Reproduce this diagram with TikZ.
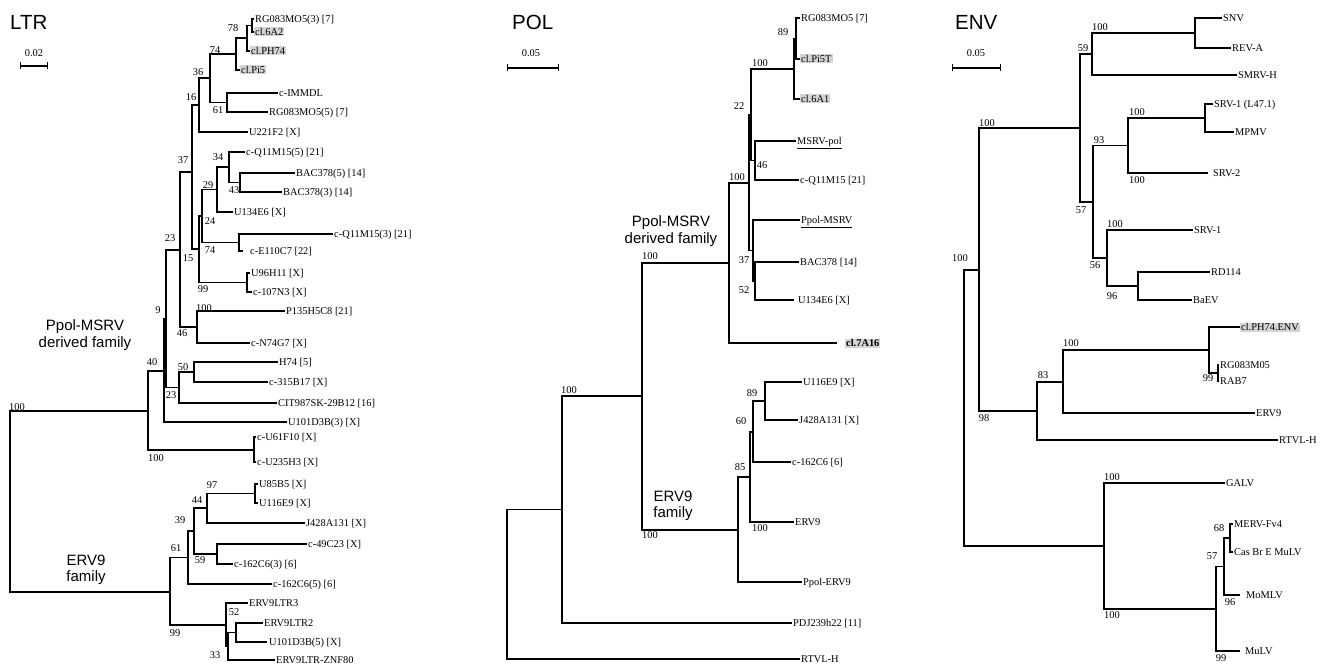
\documentclass[tikz,border=0pt]{standalone}
\usepackage{fontspec}
\setmainfont{Liberation Serif}
\newfontfamily\hvfont{Liberation Sans}
\usetikzlibrary{arrows.meta}
\tikzset{
  tree/.style={line width=1.25pt, line join=miter},
  lab/.style={anchor=west, inner sep=1pt, font=\fontsize{10.4}{12}\selectfont, text height=7pt, text depth=0pt},
  shd/.style={fill=black!17},
  bs/.style={inner sep=0pt, font=\fontsize{10.4}{12}\selectfont},
  ttl/.style={anchor=west, inner sep=0pt, font=\hvfont\fontsize{20.5}{22}\selectfont},
  fam/.style={inner sep=0pt, align=center, font=\hvfont\fontsize{15}{16.5}\selectfont},
  sbar/.style={line width=1.2pt, {Bar[width=7pt]}-{Bar[width=7pt]}},
}
\newcommand{\TLeaf}[4]{\coordinate (#1) at (#2,#3); \node[lab] (#1t) at (#1) {#4};}
\newcommand{\TLeafS}[4]{\coordinate (#1) at (#2,#3); \node[lab,shd] (#1t) at (#1) {#4};}
\newcommand{\TLeafG}[5]{\coordinate (#1) at (#2,#3); \node[lab,xshift=#4] (#1t) at (#1) {#5};}
\newcommand{\TNode}[3]{\coordinate (#1) at (#2,#3);}
\newcommand{\TJoin}[3]{\draw[tree] (#1) |- (#2); \draw[tree] (#1) |- (#3);}
\newcommand{\TBoot}[4]{\node[bs] (#1) at (#2,#3) {#4};}
\begin{document}
\begin{tikzpicture}[x=1pt,y=-1pt]
\useasboundingbox (0,0) rectangle (1320,666);

% ================= LTR =================
\node[ttl] (tLTR) at (10,22) {LTR};
\node[bs] (sLTR) at (34,53) {0.02};
\coordinate (sLa) at (20,66); \coordinate (sLb) at (48,66);
\draw[sbar] (sLa) -- (sLb);

\TLeaf{L1}{254}{19}{RG083MO5(3) [7]}
\TLeafS{L2}{254}{32}{cl.6A2}
\TLeafS{L3}{250}{51}{cl.PH74}
\TLeafS{L4}{240}{70}{cl.Pi5}
\TLeaf{L5}{278}{93}{c-IMMDL}
\TLeaf{L6}{268}{112}{RG083MO5(5) [7]}
\TLeaf{L7}{248}{132}{U221F2 [X]}
\TLeaf{L8}{245}{152}{c-Q11M15(5) [21]}
\TLeaf{L9}{295}{173}{BAC378(5) [14]}
\TLeaf{L10}{282}{192}{BAC378(3) [14]}
\TLeaf{L11}{233}{212}{U134E6 [X]}
\TLeaf{L12}{333}{234}{c-Q11M15(3) [21]}
\TLeafG{L13}{243}{251}{6pt}{c-E110C7 [22]}
\TLeaf{L14}{250}{273}{U96H11 [X]}
\TLeaf{L15}{252}{292}{c-107N3 [X]}
\TLeaf{L16}{285}{311}{P135H5C8 [21]}
\TLeaf{L17}{250}{343}{c-N74G7 [X]}
\TLeaf{L18}{278}{362}{H74 [5]}
\TLeaf{L19}{268}{382}{c-315B17 [X]}
\TLeaf{L20}{277}{403}{CIT987SK-29B12 [16]}
\TLeaf{L21}{287}{422}{U101D3B(3) [X]}
\TLeaf{L22}{256}{437}{c-U61F10 [X]}
\TLeaf{L23}{256}{462}{c-U235H3 [X]}
\TLeaf{L24}{258}{484}{U85B5 [X]}
\TLeaf{L25}{258}{503}{U116E9 [X]}
\TLeaf{L26}{305}{523}{J428A131 [X]}
\TLeaf{L27}{307}{544}{c-49C23 [X]}
\TLeaf{L28}{233}{564}{c-162C6(3) [6]}
\TLeaf{L29}{272}{584}{c-162C6(5) [6]}
\TLeaf{L30}{248}{603}{ERV9LTR3}
\TLeaf{L31}{263}{623}{ERV9LTR2}
\TLeafG{L32}{267}{642}{1pt}{U101D3B(5) [X]}
\TLeaf{L33}{275}{660}{ERV9LTR-ZNF80}

\TNode{Lna}{252}{25.5}
\TNode{Ln78}{247}{38}
\TNode{Ln74}{236}{54}
\TNode{Ln61}{227}{102.5}
\TNode{Ln36}{210}{78}
\TNode{Ln16}{199}{105}
\TNode{Ln43}{240}{182.5}
\TNode{Ln34}{229}{167}
\TNode{Ln29}{217}{189.5}
\TNode{Ln74b}{239}{242.5}
\TNode{Ln24}{202}{216}
\TNode{Ln99a}{247}{282.5}
\TNode{Ln15}{199}{249}
\TNode{Ln37}{192}{172}
\TNode{Ln46}{197}{327}
\TNode{Ln23}{180}{250}
\TNode{Ln50}{194}{372}
\TNode{Ln23b}{179}{387.5}
\TNode{Ln9}{166}{319}
\TNode{Ln40}{164}{371}
\TNode{Ln100b}{254}{450}
\TNode{LnU}{148}{411}
\TNode{Ln97}{255}{493.5}
\TNode{Ln44}{207}{508}
\TNode{Ln59}{217}{554}
\TNode{Ln39}{194}{531}
\TNode{Ln61b}{188}{557.5}
\TNode{Ln52}{236}{632.5}
\TNode{Ln33}{228}{646}
\TNode{Ln99b}{226}{625}
\TNode{LnE}{170}{592}
\TNode{Lroot}{10}{502}

\TJoin{Lna}{L1}{L2}
\TJoin{Ln78}{Lna}{L3}
\TJoin{Ln74}{Ln78}{L4}
\TJoin{Ln61}{L5}{L6}
\TJoin{Ln36}{Ln74}{Ln61}
\TJoin{Ln16}{Ln36}{L7}
\TJoin{Ln43}{L9}{L10}
\TJoin{Ln34}{L8}{Ln43}
\TJoin{Ln29}{Ln34}{L11}
\TJoin{Ln74b}{L12}{L13}
\TJoin{Ln24}{Ln29}{Ln74b}
\TJoin{Ln99a}{L14}{L15}
\TJoin{Ln15}{Ln24}{Ln99a}
\TJoin{Ln37}{Ln16}{Ln15}
\TJoin{Ln46}{L16}{L17}
\TJoin{Ln23}{Ln37}{Ln46}
\TJoin{Ln50}{L18}{L19}
\TJoin{Ln23b}{Ln50}{L20}
\TJoin{Ln9}{Ln23}{Ln23b}
\TJoin{Ln40}{Ln9}{L21}
\TJoin{Ln100b}{L22}{L23}
\TJoin{LnU}{Ln40}{Ln100b}
\TJoin{Ln97}{L24}{L25}
\TJoin{Ln44}{Ln97}{L26}
\TJoin{Ln59}{L27}{L28}
\TJoin{Ln39}{Ln44}{Ln59}
\TJoin{Ln61b}{Ln39}{L29}
\TJoin{Ln52}{L31}{L32}
\TJoin{Ln33}{Ln52}{L33}
\TJoin{Ln99b}{L30}{Ln33}
\TJoin{LnE}{Ln61b}{Ln99b}
\TJoin{Lroot}{LnU}{LnE}

\TBoot{bL1}{233}{28}{78}
\TBoot{bL2}{215}{50}{74}
\TBoot{bL3}{198}{72}{36}
\TBoot{bL4}{191}{97}{16}
\TBoot{bL5}{218}{110}{61}
\TBoot{bL6}{183}{160}{37}
\TBoot{bL7}{218}{157}{34}
\TBoot{bL8}{208}{185}{29}
\TBoot{bL9}{234}{190}{43}
\TBoot{bL10}{210}{221}{24}
\TBoot{bL11}{210}{250}{74}
\TBoot{bL12}{188}{258}{15}
\TBoot{bL13}{203}{289}{99}
\TBoot{bL14}{170}{238}{23}
\TBoot{bL15}{204}{308}{100}
\TBoot{bL16}{182}{333}{46}
\TBoot{bL17}{158}{310}{9}
\TBoot{bL18}{152}{362}{40}
\TBoot{bL19}{183}{367}{50}
\TBoot{bL20}{171}{395}{23}
\TBoot{bL21}{17}{407}{100}
\TBoot{bL22}{156}{458}{100}
\TBoot{bL23}{212}{485}{97}
\TBoot{bL24}{197}{500}{44}
\TBoot{bL25}{180}{520}{39}
\TBoot{bL26}{176}{548}{61}
\TBoot{bL27}{200}{560}{59}
\TBoot{bL28}{175}{633}{99}
\TBoot{bL29}{234}{612}{52}
\TBoot{bL30}{215}{655}{33}

\node[fam] (fL1) at (85,335) {Ppol-MSRV\\derived family};
\node[fam] (fL2) at (86,570) {ERV9\\family};

% ================= POL =================
\node[ttl] (tPOL) at (512,22) {POL};
\node[bs] (sPOL) at (531,53) {0.05};
\coordinate (sPa) at (507,68); \coordinate (sPb) at (559,68);
\draw[sbar] (sPa) -- (sPb);

\TLeaf{P1}{800}{18}{RG083MO5 [7]}
\TLeafS{P2}{800}{59}{cl.Pi5T}
\TLeafS{P3}{800}{99}{cl.6A1}
\TLeaf{P4}{796}{141}{\underline{MSRV-pol}}
\TLeaf{P5}{799}{180}{c-Q11M15 [21]}
\TLeaf{P6}{800}{220}{\underline{Ppol-MSRV}}
\TLeaf{P7}{799}{262}{BAC378 [14]}
\TLeafG{P8}{794}{300}{3pt}{U134E6 [X]}
\coordinate (P9) at (837,343); \node[lab,shd,xshift=8pt] (P9t) at (P9) {\bfseries cl.7A16};
\TLeaf{P10}{802}{382}{U116E9 [X]}
\TLeaf{P11}{798}{420}{J428A131 [X]}
\TLeaf{P12}{791}{462}{c-162C6 [6]}
\TLeaf{P13}{794}{522}{ERV9}
\TLeaf{P14}{802}{582}{Ppol-ERV9}
\TLeaf{P15}{792}{623}{PDJ239h22 [11]}
\TLeaf{P16}{800}{659}{RTVL-H}

\TNode{Pn89}{796}{38.5}
\TNode{Pn100t}{794}{69}
\TNode{Pn46}{755}{160.5}
\TNode{Pn22}{751}{115}
\TNode{Pn52}{755}{281}
\TNode{Pn37}{753}{250.5}
\TNode{PnB}{749}{183}
\TNode{PnP}{729}{263}
\TNode{Pn89b}{765}{401}
\TNode{Pn60}{753}{432}
\TNode{Pn85}{750}{477}
\TNode{PnE}{738}{530}
\TNode{Pn100P}{642}{396}
\TNode{PnPDJ}{562}{509.5}
\TNode{Proot}{507}{584}

\TJoin{Pn89}{P1}{P2}
\TJoin{Pn100t}{Pn89}{P3}
\TJoin{Pn46}{P4}{P5}
\TJoin{Pn22}{Pn100t}{Pn46}
\TJoin{Pn52}{P7}{P8}
\TJoin{Pn37}{P6}{Pn52}
\TJoin{PnB}{Pn22}{Pn37}
\TJoin{PnP}{PnB}{P9}
\TJoin{Pn89b}{P10}{P11}
\TJoin{Pn60}{Pn89b}{P12}
\TJoin{Pn85}{Pn60}{P13}
\TJoin{PnE}{Pn85}{P14}
\TJoin{Pn100P}{PnP}{PnE}
\TJoin{PnPDJ}{Pn100P}{P15}
\TJoin{Proot}{PnPDJ}{P16}

\TBoot{bP1}{783}{32}{89}
\TBoot{bP2}{760}{63}{100}
\TBoot{bP3}{739}{106}{22}
\TBoot{bP4}{762}{165}{46}
\TBoot{bP5}{737}{177}{100}
\TBoot{bP6}{744}{260}{37}
\TBoot{bP7}{744}{290}{52}
\TBoot{bP8}{650}{256}{100}
\TBoot{bP9}{569}{390}{100}
\TBoot{bP10}{752}{393}{89}
\TBoot{bP11}{741}{421}{60}
\TBoot{bP12}{740}{467}{85}
\TBoot{bP13}{760}{528}{100}
\TBoot{bP14}{650}{535}{100}

\node[fam] (fP1) at (671,231) {Ppol-MSRV\\derived family};
\node[fam] (fP2) at (673,506) {ERV9\\family};

% ================= ENV =================
\node[ttl] (tENV) at (955,22) {ENV};
\node[bs] (sENV) at (976,53) {0.05};
\coordinate (sEa) at (952,68); \coordinate (sEb) at (1001,68);
\draw[sbar] (sEa) -- (sEb);

\TLeaf{E1}{1222}{18}{SNV}
\TLeaf{E2}{1231}{48}{REV-A}
\TLeaf{E3}{1237}{75}{SMRV-H}
\TLeaf{E4}{1213}{104}{SRV-1 (L47.1)}
\TLeaf{E5}{1234}{132}{MPMV}
\TLeafG{E6}{1208}{173}{4pt}{SRV-2}
\TLeaf{E7}{1193}{230}{SRV-1}
\TLeaf{E8}{1210}{272}{RD114}
\TLeaf{E9}{1192}{300}{BaEV}
\TLeafS{E10}{1240}{327}{cl.PH74.ENV}
\TLeaf{E11}{1219}{365}{RG083M05}
\TLeaf{E12}{1219}{381}{RAB7}
\TLeaf{E13}{1255}{413}{ERV9}
\TLeaf{E14}{1278}{440}{RTVL-H}
\TLeaf{E15}{1225}{483}{GALV}
\TLeaf{E16}{1233}{524}{MERV-Fv4}
\TLeaf{E17}{1233}{552}{Cas Br E MuLV}
\TLeafG{E18}{1240}{595}{5pt}{MoMLV}
\TLeafG{E19}{1240}{651}{4pt}{MuLV}

\TNode{En100a}{1195}{33}
\TNode{En59}{1092}{54}
\TNode{En100b}{1205}{118}
\TNode{En93}{1128}{145.5}
\TNode{En96}{1138}{286}
\TNode{En56}{1107}{258}
\TNode{En57}{1093}{202}
\TNode{En100t}{1080}{128}
\TNode{En99}{1218}{373}
\TNode{En100c}{1209}{350}
\TNode{En83b}{1063}{382}
\TNode{En83}{1037}{411}
\TNode{En100L}{979}{270}
\TNode{En68}{1230}{538}
\TNode{En96b}{1224}{566.5}
\TNode{En57b}{1216}{609}
\TNode{En100G}{1104}{546}
\TNode{Eroot}{964}{408}

\TJoin{En100a}{E1}{E2}
\TJoin{En59}{En100a}{E3}
\TJoin{En100b}{E4}{E5}
\TJoin{En93}{En100b}{E6}
\TJoin{En96}{E8}{E9}
\TJoin{En56}{E7}{En96}
\TJoin{En57}{En93}{En56}
\TJoin{En100t}{En59}{En57}
\TJoin{En99}{E11}{E12}
\TJoin{En100c}{E10}{En99}
\TJoin{En83b}{En100c}{E13}
\TJoin{En83}{En83b}{E14}
\TJoin{En100L}{En100t}{En83}
\TJoin{En68}{E16}{E17}
\TJoin{En96b}{En68}{E18}
\TJoin{En57b}{En96b}{E19}
\TJoin{En100G}{E15}{En57b}
\TJoin{Eroot}{En100L}{En100G}

\TBoot{bE1}{1100}{27}{100}
\TBoot{bE2}{1083}{48}{59}
\TBoot{bE3}{1137}{112}{100}
\TBoot{bE4}{1099}{140}{93}
\TBoot{bE5}{1137}{180}{100}
\TBoot{bE6}{1115}{224}{100}
\TBoot{bE7}{1095}{265}{56}
\TBoot{bE8}{1112}{296}{96}
\TBoot{bE9}{1081}{210}{57}
\TBoot{bE10}{987}{123}{100}
\TBoot{bE11}{1071}{343}{100}
\TBoot{bE12}{1208}{378}{99}
\TBoot{bE13}{1043}{375}{83}
\TBoot{bE14}{984}{418}{98}
\TBoot{bE15}{960}{258}{100}
\TBoot{bE16}{1219}{528}{68}
\TBoot{bE17}{1212}{556}{57}
\TBoot{bE18}{1230}{602}{96}
\TBoot{bE19}{1221}{658}{99}
\TBoot{bE20}{1112}{477}{100}
\TBoot{bE21}{1112}{615}{100}
\end{tikzpicture}
\end{document}
